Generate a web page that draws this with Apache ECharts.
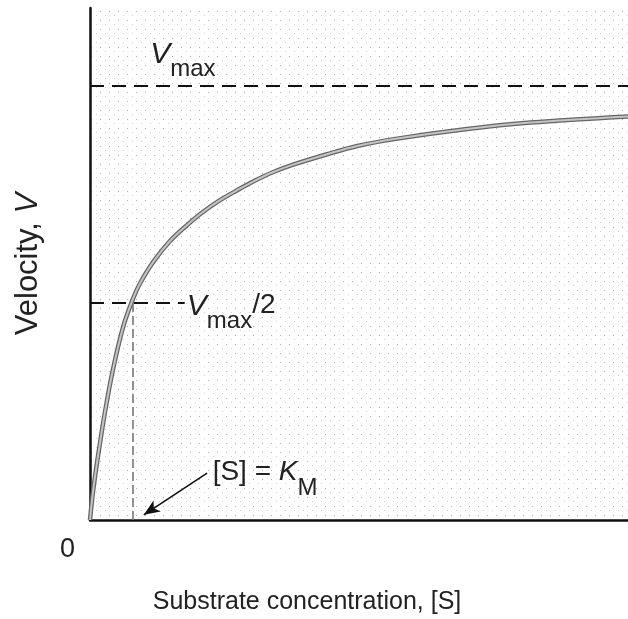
<!DOCTYPE html>
<html>
<head>
<meta charset="utf-8">
<script src="https://cdn.jsdelivr.net/npm/echarts@6/dist/echarts.min.js"></script>
<style>
  html, body { margin: 0; padding: 0; background: #fff; }
  #chart { width: 628px; height: 619px; }
</style>
</head>
<body>
<div id="chart"></div>
<script>
// Curva de Michaelis-Menten, [S] en unidades de KM y V en fracciones de Vmax
const sConc    = [0, 0.07, 0.19, 0.35, 0.53, 0.77, 1.0, 1.16, 1.47, 1.86, 2.26, 2.60, 3.02, 3.42, 3.79, 4.26, 4.72, 5.51, 6.21, 7.14, 8.67, 10.23, 12.5];
const velocity = [0, 0.065, 0.150, 0.250, 0.345, 0.445, 0.510, 0.545, 0.595, 0.643, 0.680, 0.708, 0.737, 0.760, 0.780, 0.802, 0.819, 0.843, 0.862, 0.879, 0.900, 0.916, 0.930];
const vMax = 1.0;
const kM = 1.0;
const xTickLabels = ['0'];

const FONT = 'Liberation Sans';

// Textura punteada para el fondo del gráfico
function dotPattern() {
    const c = document.createElement('canvas');
    c.width = 9; c.height = 9;
    const ctx = c.getContext('2d');
    ctx.fillStyle = 'rgba(80,80,80,0.45)';
    ctx.fillRect(1, 2, 1, 1);
    ctx.fillStyle = 'rgba(80,80,80,0.25)';
    ctx.fillRect(6, 6, 1, 1);
    return c;
}

const curveData = sConc.map((s, i) => [s, velocity[i]]);

const subRich = {
    v: { fontFamily: FONT, fontSize: 30, fontStyle: 'italic', color: '#222', lineHeight: 32, verticalAlign: 'top' },
    s: { fontFamily: FONT, fontSize: 24, color: '#222', lineHeight: 24, padding: [18, 0, 0, 0], verticalAlign: 'top' },
    n: { fontFamily: FONT, fontSize: 28, color: '#222', lineHeight: 32, verticalAlign: 'top' },
    k: { fontFamily: FONT, fontSize: 28, fontStyle: 'italic', color: '#222', lineHeight: 32, verticalAlign: 'top' }
};

const chart = echarts.init(document.getElementById('chart'), null, { renderer: 'canvas' });

const option = {
    backgroundColor: '#fff',
    animation: false,
    grid: {
        left: 90, right: 0, top: 8, bottom: 99,
        containLabel: false,
        outerBoundsMode: 'none',
        show: true,
        borderWidth: 0,
        backgroundColor: { image: dotPattern(), repeat: 'repeat' }
    },
    xAxis: {
        type: 'value',
        min: 0, max: 12.5, interval: 12.5,
        name: 'Substrate concentration, [S]',
        nameLocation: 'middle',
        nameGap: 70,
        nameTextStyle: { fontFamily: FONT, fontSize: 25, color: '#222', padding: [0, 104, 0, 0] },
        axisLine: { lineStyle: { color: '#111', width: 2.5 } },
        axisTick: { show: false },
        splitLine: { show: false },
        axisLabel: {
            fontFamily: FONT, fontSize: 27, color: '#222',
            align: 'right', margin: 16, padding: [0, 15, 0, 0],
            formatter: v => (v === 0 ? xTickLabels[0] : '')
        }
    },
    yAxis: {
        type: 'value',
        min: 0, max: 1.18,
        name: '{n|Velocity, }{i|V}',
        nameLocation: 'middle',
        nameGap: 46,
        nameTextStyle: {
            rich: {
                n: { fontFamily: FONT, fontSize: 31, color: '#222' },
                i: { fontFamily: FONT, fontSize: 31, fontStyle: 'italic', color: '#222' }
            }
        },
        axisLine: { show: true, lineStyle: { color: '#111', width: 2.5 } },
        axisTick: { show: false },
        axisLabel: { show: false },
        splitLine: { show: false }
    },
    series: [
        {
            // borde oscuro de la curva
            type: 'line',
            data: curveData,
            smooth: 0.35,
            symbol: 'none',
            lineStyle: { color: '#666', width: 4.5 },
            z: 3
        },
        {
            // relleno gris de la curva
            type: 'line',
            data: curveData,
            smooth: 0.35,
            symbol: 'none',
            lineStyle: { color: '#c4c4c4', width: 2 },
            z: 4,
            markLine: {
                silent: true,
                symbol: 'none',
                label: { show: false },
                data: [
                    [
                        { coord: [0, vMax], lineStyle: { color: '#111', width: 2, type: [14, 8] } },
                        { coord: [12.5, vMax] }
                    ],
                    [
                        { coord: [0, vMax / 2], lineStyle: { color: '#111', width: 2, type: [14, 8] } },
                        { coord: [2.2, vMax / 2] }
                    ],
                    [
                        { coord: [kM, vMax / 2], lineStyle: { color: '#777', width: 1.6, type: [9, 4] } },
                        { coord: [kM, 0] }
                    ],
                    [
                        { coord: [2.72, 0.108], symbol: 'none', lineStyle: { color: '#111', width: 1.6, type: 'solid' } },
                        { coord: [1.25, 0.012], symbol: 'arrow', symbolSize: [10, 16] }
                    ]
                ]
            },
            markPoint: {
                silent: true,
                symbol: 'circle',
                symbolSize: 0,
                label: { show: true, position: 'right', distance: 0, rich: subRich },
                data: [
                    { coord: [1.4, 1.07], label: { formatter: '{v|V}{s|max}' } },
                    { coord: [2.25, 0.49], label: { formatter: '{v|V}{s|max}{n|/2}' } },
                    { coord: [2.85, 0.105], label: { formatter: '{n|[S] = }{k|K}{s|M}' } }
                ]
            }
        }
    ]
};

chart.setOption(option);
window.addEventListener('resize', () => chart.resize());
</script>
</body>
</html>
